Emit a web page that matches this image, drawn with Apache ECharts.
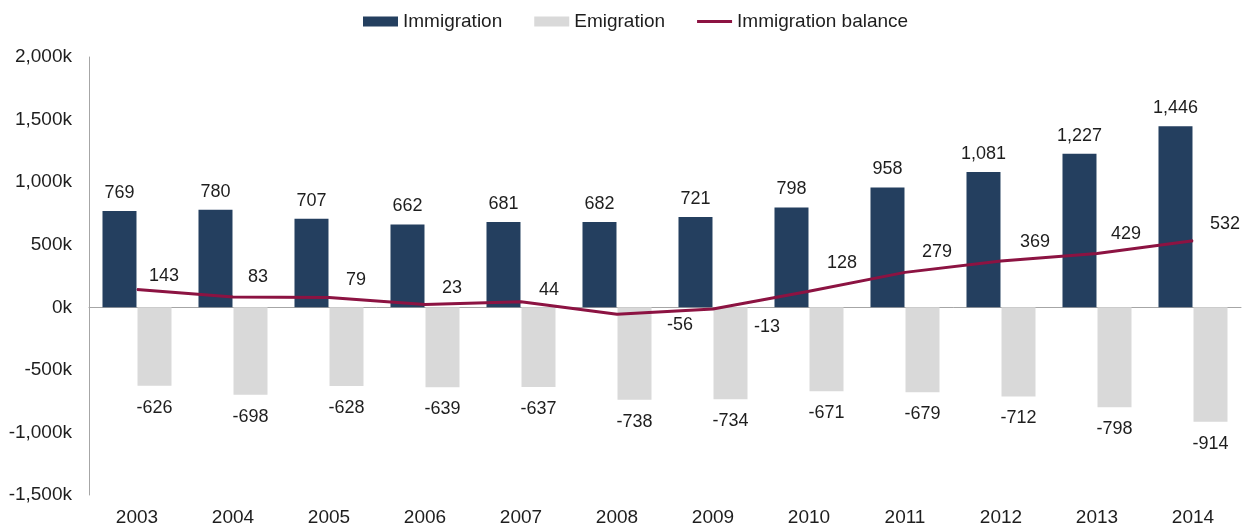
<!DOCTYPE html>
<html>
<head>
<meta charset="utf-8">
<script src="https://cdn.jsdelivr.net/npm/echarts@6/dist/echarts.min.js"></script>
<style>
  html, body { margin: 0; padding: 0; background: #fff; }
  #chart { width: 1246px; height: 529px; }
</style>
</head>
<body>
<div id="chart"></div>
<script>
// Migration flows, thousands of people per year
const years = ['2003', '2004', '2005', '2006', '2007', '2008', '2009', '2010', '2011', '2012', '2013', '2014'];
const immigration = [769, 780, 707, 662, 681, 682, 721, 798, 958, 1081, 1227, 1446];
const emigration = [-626, -698, -628, -639, -637, -738, -734, -671, -679, -712, -798, -914];
const balance = [143, 83, 79, 23, 44, -56, -13, 128, 279, 369, 429, 532];

// Hand-placed label shifts (px) for the balance line, keeping numbers clear of bars
const balanceLabelShift = [[27, -13], [25, -20], [27, -17], [27, -16], [28, -12], [63, 11],
                           [54, 18], [33, -28], [32, -20], [34, -19], [29, -20], [32, -17]];

const fmt = v => Number(v).toLocaleString('en-US');
const textColor = '#1e1e1e';
const font = 'Liberation Sans, Arial, sans-serif';

const balanceData = balance.map((v, i) => ({
  value: v,
  label: { offset: balanceLabelShift[i] }
}));

const chart = echarts.init(document.getElementById('chart'), null, { renderer: 'canvas' });
chart.setOption({
  animation: false,
  backgroundColor: '#ffffff',
  textStyle: { fontFamily: font },
  legend: {
    top: 7,
    left: 358,
    itemWidth: 35,
    itemHeight: 10,
    itemGap: 32,
    textStyle: { fontSize: 19, color: textColor, fontFamily: font },
    data: [
      { name: 'Immigration', icon: 'rect' },
      { name: 'Emigration', icon: 'rect' },
      { name: 'Immigration balance', icon: 'path://M0,3.5 L35,3.5 L35,6.5 L0,6.5 Z' }
    ]
  },
  grid: { left: 89, right: 5, top: 57, bottom: 34, containLabel: false },
  xAxis: [
    {
      type: 'category',
      data: years,
      position: 'bottom',
      axisLine: { show: false, onZero: false },
      axisTick: { show: false },
      axisLabel: { fontSize: 19, color: textColor, margin: 13, fontFamily: font }
    },
    {
      type: 'category',
      data: years,
      axisLine: { show: true, onZero: true, lineStyle: { color: '#a6a6a6', width: 1 } },
      axisTick: { show: false },
      axisLabel: { show: false }
    }
  ],
  yAxis: {
    type: 'value',
    min: -1500,
    max: 2000,
    interval: 500,
    axisLine: { show: true, lineStyle: { color: '#a6a6a6', width: 1 } },
    axisTick: { show: false },
    splitLine: { show: false },
    axisLabel: {
      fontSize: 19, color: textColor, margin: 17, fontFamily: font,
      formatter: v => fmt(v) + 'k'
    }
  },
  series: [
    {
      name: 'Immigration',
      type: 'bar',
      data: immigration,
      barWidth: 34,
      barGap: '3%',
      itemStyle: { color: '#243f5f' },
      label: {
        show: true, position: 'top', distance: 9,
        fontSize: 18, color: textColor, fontFamily: font,
        formatter: p => fmt(p.value)
      }
    },
    {
      name: 'Emigration',
      type: 'bar',
      data: emigration,
      barWidth: 34,
      itemStyle: { color: '#d9d9d9' },
      label: {
        show: true, position: 'bottom', distance: 13,
        fontSize: 18, color: textColor, fontFamily: font,
        formatter: p => fmt(p.value)
      }
    },
    {
      name: 'Immigration balance',
      type: 'line',
      data: balanceData,
      symbol: 'circle',
      symbolSize: 1,
      showSymbol: true,
      lineStyle: { color: '#8c1342', width: 3 },
      itemStyle: { color: '#8c1342' },
      z: 5,
      label: {
        show: true, position: 'inside',
        align: 'center', verticalAlign: 'middle',
        fontSize: 18, color: textColor, fontFamily: font,
        formatter: p => fmt(p.value)
      }
    }
  ]
});
</script>
</body>
</html>
